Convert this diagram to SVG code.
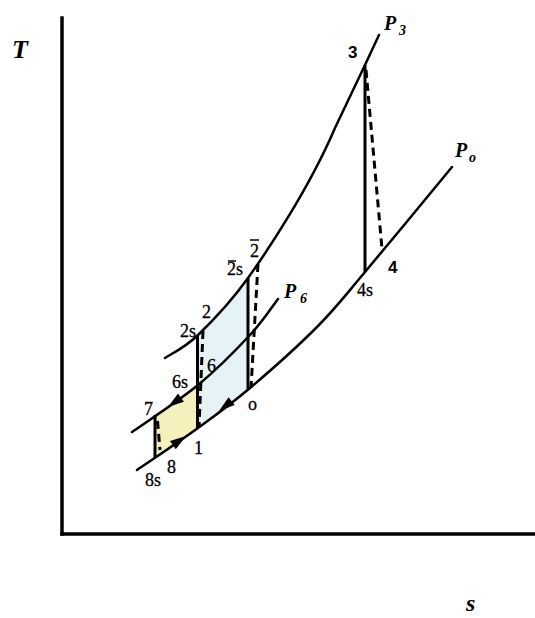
<svg xmlns="http://www.w3.org/2000/svg" width="535" height="618" viewBox="0 0 535 618">
<style>
.curve{fill:none;stroke:#000;stroke-width:2.5;stroke-linecap:round}
.solid{fill:none;stroke:#000;stroke-width:3}
.dash{fill:none;stroke:#000;stroke-width:3;stroke-dasharray:8 5}
.axis{fill:none;stroke:#000;stroke-width:3.5;stroke-linecap:square}
.lbl{font-family:"Liberation Serif","Times New Roman",serif;font-size:18px;fill:#000;stroke:#000;stroke-width:0.3}
.lbs{font-family:"Liberation Sans",Arial,sans-serif;font-size:17px;font-weight:bold;fill:#000}
.var{font-family:"Liberation Serif","Times New Roman",serif;font-style:italic;font-weight:bold;fill:#000}
.bar{stroke:#000;stroke-width:1.5}
</style>
<defs>
<path id="ah" d="M0,0 L-16,-5 L-16,5 Z" fill="#000"/>
</defs>
<g id="regions">
<path id="blue" d="M198,335 C211.8,321.7 231,301.8 248,278 L248,389 C230.2,404.8 216.8,414.3 198,428 Z" fill="#e6f3f6"/>
<path id="yellow" d="M198,385 L176,400.5 L155,415.5 L155,457.5 L176,443 L198,428 Z" fill="#f4f1bd"/>
</g>
<g id="axes">
<line class="axis" x1="62" y1="18" x2="62" y2="534"/>
<line class="axis" x1="62" y1="534" x2="535" y2="534"/>
</g>
<g id="connectors">
<path id="P3-curve" class="curve" d="M165,358 C170.5,354.2 184.2,348.3 198,335 C211.8,321.7 231,301.8 248,278 C265,254.2 308,191 335,128 C345,107 356,84 365,65 L379,35"/>
<path id="P6-curve" class="curve" d="M132,432 C143,424.2 178.3,401.2 198,385 C217.7,368.8 236.7,349.3 250,335 C263.3,320.7 273.3,305 278,299"/>
<path id="Po-curve" class="curve" d="M137,470 C147.2,463 179.2,441.7 198,428 C216.8,414.3 230.2,404.8 250,388 C269.8,371.2 297.8,346.3 317,327 C336.2,307.7 342.5,298.7 365,272 C387.5,245.3 437.5,184.5 452,167"/>
<line class="solid" x1="365" y1="65" x2="365" y2="272"/>
<line class="dash" x1="366" y1="70" x2="382" y2="249"/>
<line class="solid" x1="248" y1="278" x2="248" y2="389"/>
<line class="dash" x1="258" y1="264" x2="251" y2="388"/>
<line class="solid" x1="197.5" y1="335" x2="197.5" y2="428"/>
<line class="dash" x1="203" y1="331" x2="199" y2="427"/>
<line class="solid" x1="155" y1="415" x2="155" y2="458"/>
<line class="dash" x1="157.5" y1="421" x2="160" y2="450" stroke-dasharray="6 5"/>
<use href="#ah" transform="translate(168,407) rotate(144)"/>
<use href="#ah" transform="translate(219,411) rotate(142)"/>
<use href="#ah" transform="translate(186,436) rotate(-35)"/>
</g>
<g id="labels">
<text class="var" x="12" y="58" font-size="26">T</text>
<text class="var" x="466" y="611" font-size="24">s</text>
<text class="var" x="384" y="30" font-size="20">P</text>
<text class="var" x="399" y="35" font-size="14">3</text>
<text class="var" x="455" y="157" font-size="20">P</text>
<text class="var" x="469" y="162" font-size="14">o</text>
<text class="var" x="284" y="298" font-size="20">P</text>
<text class="var" x="300" y="303" font-size="14">6</text>
<text class="lbs" x="348" y="58">3</text>
<text class="lbs" x="388" y="273">4</text>
<text class="lbl" x="357" y="296">4s</text>
<text class="lbl" x="227" y="275">2s</text>
<line class="bar" x1="228" y1="261" x2="236" y2="261"/>
<text class="lbl" x="250" y="257">2</text>
<line class="bar" x1="250" y1="240" x2="259" y2="240"/>
<text class="lbl" x="180" y="337">2s</text>
<text class="lbl" x="202" y="318">2</text>
<text class="lbl" x="207" y="372">6</text>
<text class="lbl" x="172" y="388">6s</text>
<text class="lbl" x="144" y="415">7</text>
<text class="lbl" x="248" y="410">o</text>
<text class="lbl" x="194" y="454">1</text>
<text class="lbl" x="167" y="473">8</text>
<text class="lbl" x="145" y="486">8s</text>
</g>
</svg>
